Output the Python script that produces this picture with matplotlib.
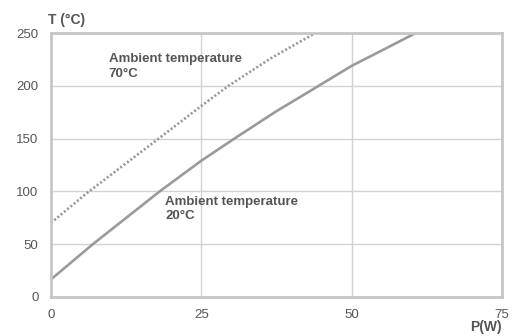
import matplotlib
matplotlib.use('Agg')
import matplotlib.pyplot as plt

plt.rcParams['font.family'] = ['Liberation Sans', 'DejaVu Sans']

# power (W) vs temperature (deg C)
p_20 = [0, 7.0, 12.0, 18.1, 25, 30.5, 37.5, 44.5, 50, 55.5, 60.6]
t_20 = [16.4, 50, 72.5, 100, 129, 150, 176, 200, 219, 235, 250]

p_70 = [0, 5.9, 11.9, 17.9, 25, 29.5, 36.5, 43.9]
t_70 = [70, 98, 124, 150, 181, 200, 226, 250]

x_ticks = [0, 25, 50, 75]
y_ticks = [0, 50, 100, 150, 200, 250]

text_col = '#555555'
line_col = '#9a9a9a'
grid_col = '#d2d2d2'
frame_col = '#c6c6c6'

fig = plt.figure(figsize=(5.17, 3.36), dpi=100)
ax = fig.add_axes([0.0986, 0.117, 0.872, 0.784])

ax.plot(p_20, t_20, color=line_col, lw=1.9, solid_capstyle='butt')
ax.plot(p_70, t_70, color=line_col, lw=1.9, linestyle=(0, (0.8, 0.8)))

ax.set_xlim(0, 75)
ax.set_ylim(0, 250)
ax.set_xticks(x_ticks)
ax.set_yticks(y_ticks)
ax.grid(True, color=grid_col, lw=1)
ax.set_axisbelow(True)
ax.tick_params(length=0, labelsize=9.5, colors=text_col, pad=9)
for s in ax.spines.values():
    s.set_color(frame_col)
    s.set_linewidth(2)

ax.text(9.6, 231, 'Ambient temperature\n70°C', fontsize=9.5, fontweight='bold',
        color=text_col, va='top', linespacing=1.25)
ax.text(19.0, 96, 'Ambient temperature\n20°C', fontsize=9.5, fontweight='bold',
        color=text_col, va='top', linespacing=1.25)

fig.text(0.092, 0.94, 'T (°C)', fontsize=10, fontweight='bold', color=text_col,
         ha='left', va='center')
fig.text(0.971, 0.027, 'P(W)', fontsize=10, fontweight='bold', color=text_col,
         ha='right', va='center')

fig.savefig('out.png', dpi=100)
